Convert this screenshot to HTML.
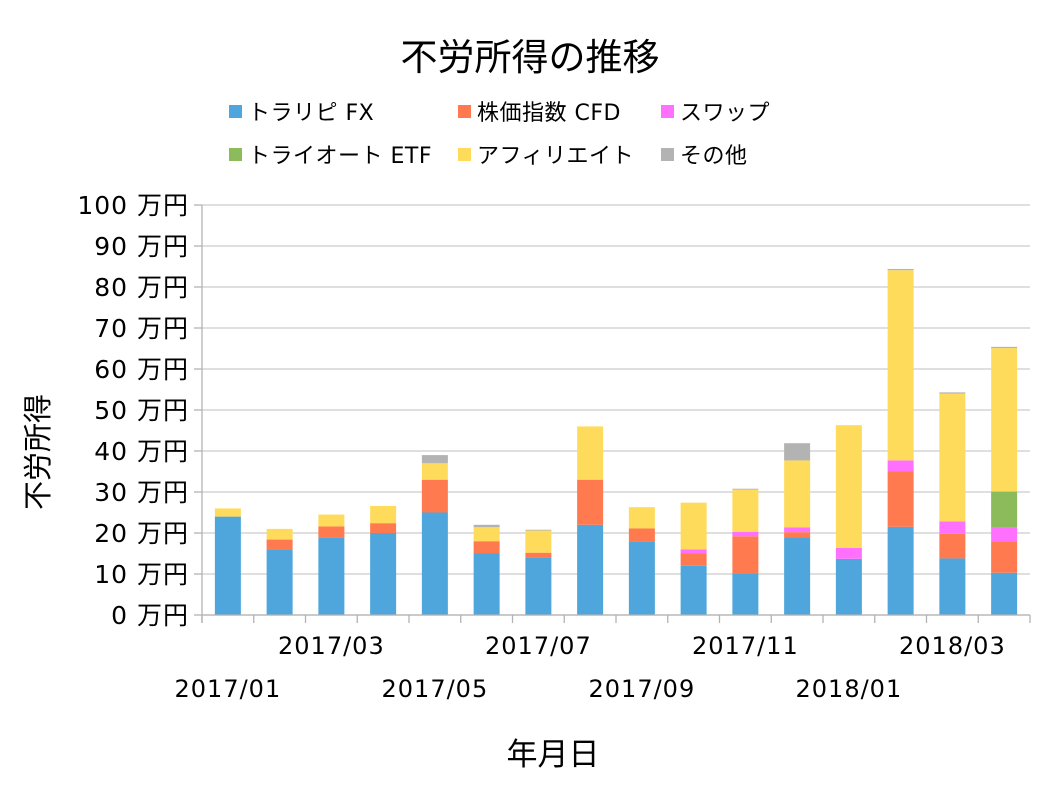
<!DOCTYPE html>
<html><head><meta charset="utf-8"><style>
body{margin:0;background:#fff;}
svg text{font-family:"DejaVu Sans","Noto Sans CJK JP",sans-serif;fill:#000;}
</style></head><body>
<svg id="chart" width="1058" height="794" viewBox="0 0 1058 794" xmlns="http://www.w3.org/2000/svg">
<rect width="1058" height="794" fill="#fff"/>
<text x="530" y="70" font-size="37" text-anchor="middle">不労所得の推移</text>
<g id="legend"></g>
<g id="grid"></g>
<g id="bars"></g>
<g id="axes"></g>
<text transform="translate(48,452) rotate(-90)" font-size="29" text-anchor="middle">不労所得</text>
<text x="553" y="765" font-size="31" text-anchor="middle">年月日</text>
</svg>
<script>
const categories=["2017/01","2017/02","2017/03","2017/04","2017/05","2017/06","2017/07","2017/08","2017/09","2017/10","2017/11","2017/12","2018/01","2018/02","2018/03","2018/04"];
const fx=[24,16,18.8,20,25,15,14,22,18,12,10,19,13.7,21.5,13.8,10.3];
const cfd=[0,2.4,2.8,2.4,8,3,1.2,11,3.1,3,9.2,1.2,0,13.5,6,7.7];
const swap=[0,0,0,0,0,0,0,0,0,1,1.1,1.2,2.7,2.7,3,3.3];
const etf=[0,0,0,0,0,0,0,0,0,0,0,0,0,0,0,8.8];
const affiliate=[2,2.6,2.9,4.2,4,3.4,5.4,13,5.2,11.4,10.3,16.3,29.9,46.4,31.2,35];
const other=[0,0,0,0,2,0.6,0.2,0,0,0,0.2,4.2,0,0.3,0.3,0.3];
const yTicks=[0,10,20,30,40,50,60,70,80,90,100];
const seriesNames=["トラリピ FX","株価指数 CFD","スワップ","トライオート ETF","アフィリエイト","その他"];
const NS="http://www.w3.org/2000/svg";
const X0=202,X1=1030,Y0=615,Y1=205,YMAX=100;
const colors=["#4ea6dc","#ff7a4f","#ff70ff","#8bbb5a","#ffdb5c","#b3b3b3"];
const series=[fx,cfd,swap,etf,affiliate,other];
const step=(X1-X0)/categories.length;
function y(v){return Y0-(v/YMAX)*(Y0-Y1);}
function xc(i){return X0+step*(i+0.5);}
function mk(tag,attrs,parent){const e=document.createElementNS(NS,tag);for(const k in attrs)e.setAttribute(k,attrs[k]);parent.appendChild(e);return e;}
const grid=document.getElementById('grid'),bars=document.getElementById('bars'),axes=document.getElementById('axes'),legend=document.getElementById('legend');
yTicks.forEach(t=>{
  const l=mk('line',{x1:X0,x2:X1,y1:y(t),y2:y(t),stroke:'#cccccc','stroke-width':1.3},grid);
  
  
  const tk=mk('line',{x1:X0-8,x2:X0,y1:y(t),y2:y(t),stroke:'#b3b3b3','stroke-width':1.3},axes);
  
  
  const tx=mk('text',{x:189,y:y(t)+9,'font-size':25,'letter-spacing':1,'text-anchor':'end'},axes);
  tx.textContent=t+' 万円';
  
  
});
categories.forEach((c,i)=>{
  let acc=0;
  series.forEach((s,k)=>{
    const v=s[i];if(!v)return;
    const r=mk('rect',{x:xc(i)-13,width:26,y:y(acc+v),height:y(acc)-y(acc+v),fill:colors[k]},bars);
    
    
    acc+=v;
  });
});
mk('line',{x1:X0,x2:X0,y1:Y1,y2:Y0+8,stroke:'#b3b3b3','stroke-width':1.3},axes);
mk('line',{x1:X0,x2:X1,y1:Y0,y2:Y0,stroke:'#b3b3b3','stroke-width':1.3},axes);
for(let i=0;i<=categories.length;i++){
  const tk=mk('line',{x1:X0+step*i,x2:X0+step*i,y1:Y0,y2:Y0+8,stroke:'#b3b3b3','stroke-width':1.3},axes);
  
  
}
categories.forEach((c,i)=>{
  if(i%2!==0)return;
  const lower=(i/2)%2===0;
  const tx=mk('text',{x:xc(i),y:lower?697:654,'font-size':24,'letter-spacing':1,'text-anchor':'middle'},axes);
  tx.textContent=c;
  
  
});
const lx=[229,458,661],ly=[112,155];
seriesNames.forEach((n,k)=>{
  const px=lx[k%3],py=ly[Math.floor(k/3)];
  const g=mk('g',{},legend);
  
  
  mk('rect',{x:px,y:py-7,width:13,height:13,fill:colors[k]},g);
  const t=mk('text',{x:px+19,y:py+8,'font-size':22,'letter-spacing':0.5},g);
  t.textContent=n;
});
</script>
</body></html>
